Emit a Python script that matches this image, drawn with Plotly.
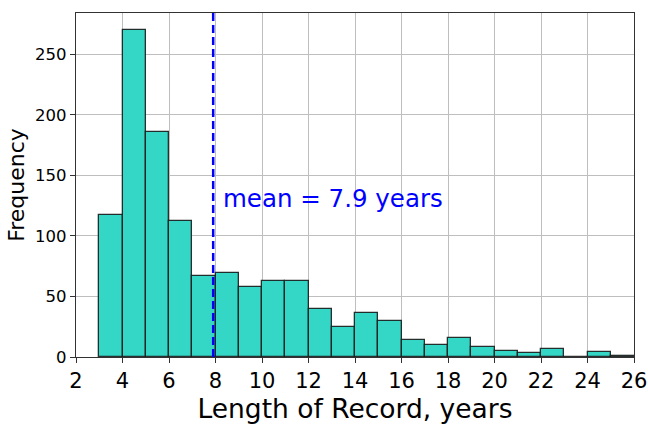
import plotly.graph_objects as go

bin_left = [3, 4, 5, 6, 7, 8, 9, 10, 11, 12, 13, 14, 15, 16, 17, 18, 19, 20, 21, 22, 23, 24, 25]
counts = [117, 270, 186, 112, 67, 69, 58, 63, 63, 40, 25, 36, 30, 14, 10, 16, 8, 5, 3, 7, 0, 4, 1]
mean_value = 7.9
x_ticks = [2, 4, 6, 8, 10, 12, 14, 16, 18, 20, 22, 24, 26]
y_ticks = [0, 50, 100, 150, 200, 250]

FONT = "DejaVu Sans"

fig = go.Figure()
fig.add_trace(go.Bar(
    x=bin_left, y=counts, width=[1] * len(bin_left), offset=0,
    marker=dict(color="rgb(52,214,198)", line=dict(color="rgba(25,25,25,0.9)", width=1.3)),
    showlegend=False,
))

fig.add_shape(type="line", x0=mean_value, x1=mean_value, y0=0, y1=1, yref="paper", xref="x",
              line=dict(color="blue", width=2.5, dash="8px,4px"), layer="above")
fig.add_annotation(x=mean_value + 0.35, y=131, xref="x", yref="y",
                   text=f"mean = {mean_value} years", showarrow=False,
                   xanchor="left", yanchor="middle",
                   font=dict(family=FONT, size=24.5, color="blue"))

fig.update_layout(
    width=648, height=424,
    margin=dict(l=76, r=14, t=13, b=67),
    paper_bgcolor="white", plot_bgcolor="white",
    bargap=0,
    font=dict(family=FONT, color="black"),
)
fig.update_xaxes(
    range=[2, 26], tickvals=x_ticks, ticktext=[str(v) for v in x_ticks],
    showgrid=True, gridcolor="rgb(190,190,190)", gridwidth=1,
    showline=True, linecolor="rgb(50,50,50)", linewidth=1.2, mirror=True,
    ticks="outside", ticklen=5, tickcolor="rgb(50,50,50)",
    tickfont=dict(family=FONT, size=21),
    title=dict(text="Length of Record, years", font=dict(family=FONT, size=26.5), standoff=0),
    zeroline=False, automargin=False,
)
fig.update_yaxes(
    range=[0, 284], tickvals=y_ticks, ticktext=[str(v) for v in y_ticks],
    showgrid=True, gridcolor="rgb(190,190,190)", gridwidth=1,
    showline=True, linecolor="rgb(50,50,50)", linewidth=1.2, mirror=True,
    ticks="outside", ticklen=5, tickcolor="rgb(50,50,50)",
    tickfont=dict(family=FONT, size=16.5),
    title=dict(text="Frequency", font=dict(family=FONT, size=22), standoff=4),
    zeroline=False, automargin=True,
)

fig.write_html("out.html", config={"displayModeBar": False},
               post_script="document.body.style.margin='0';")
